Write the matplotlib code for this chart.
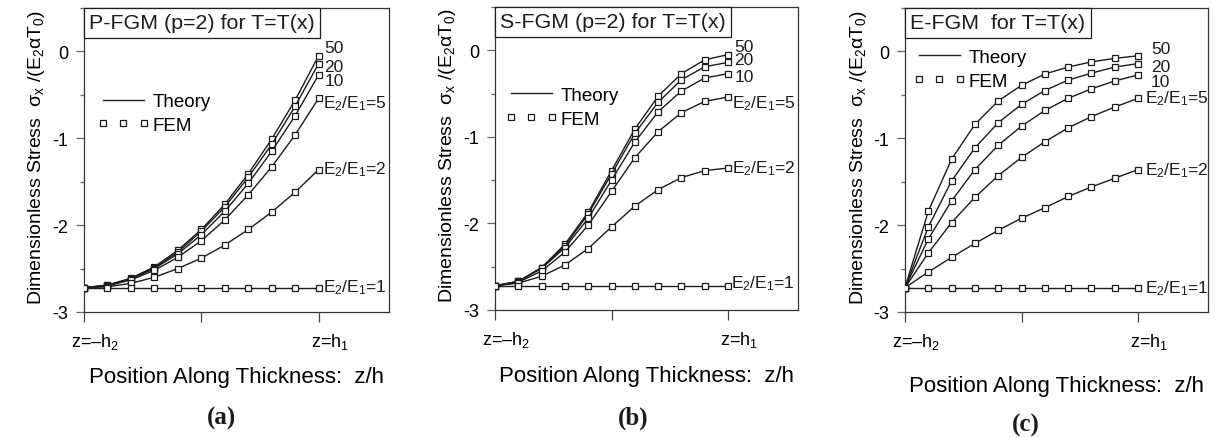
import matplotlib
matplotlib.use("Agg")
import matplotlib.pyplot as plt
from matplotlib.lines import Line2D
from matplotlib.transforms import ScaledTranslation

plt.rcParams['font.family'] = ['Liberation Sans', 'DejaVu Sans']
plt.rcParams['mathtext.fontset'] = 'custom'
plt.rcParams['mathtext.rm'] = 'Liberation Sans'
plt.rcParams['mathtext.it'] = 'Liberation Sans:italic'
plt.rcParams['mathtext.bf'] = 'Liberation Sans:bold'

# ---------------- data ----------------
# 11 stations through the thickness, z = -h2 ... z = h1
z_steps = [0, 1, 2, 3, 4, 5, 6, 7, 8, 9, 10]
x_tick_pos = [0, 5, 10]
x_tick_labels = ['z=\u2013h$_2$', '', 'z=h$_1$']
y_tick_pos = [-3, -2, -1, 0]
y_tick_labels = ['-3', '-2', '-1', '0']
y_minor_pos = [-2.5, -1.5, -0.5, 0.5]

ratio_labels = ['50', '20', '10', 'E$_2$/E$_1$=5', 'E$_2$/E$_1$=2', 'E$_2$/E$_1$=1']

# P-FGM (p=2)
p_r50 = [-2.72, -2.69, -2.61, -2.48, -2.29, -2.05, -1.76, -1.41, -1.01, -0.56, -0.05]
p_r20 = [-2.72, -2.69, -2.62, -2.49, -2.31, -2.07, -1.79, -1.45, -1.07, -0.63, -0.14]
p_r10 = [-2.72, -2.70, -2.62, -2.50, -2.33, -2.11, -1.84, -1.52, -1.15, -0.74, -0.27]
p_r5 = [-2.72, -2.70, -2.63, -2.52, -2.37, -2.18, -1.94, -1.65, -1.33, -0.96, -0.54]
p_r2 = [-2.72, -2.71, -2.67, -2.60, -2.50, -2.38, -2.23, -2.05, -1.85, -1.62, -1.36]
p_r1 = [-2.72, -2.72, -2.72, -2.72, -2.72, -2.72, -2.72, -2.72, -2.72, -2.72, -2.72]

# S-FGM (p=2)
s_r50 = [-2.72, -2.67, -2.51, -2.24, -1.87, -1.39, -0.91, -0.53, -0.27, -0.11, -0.05]
s_r20 = [-2.72, -2.67, -2.51, -2.26, -1.89, -1.43, -0.96, -0.60, -0.34, -0.19, -0.14]
s_r10 = [-2.72, -2.67, -2.52, -2.28, -1.94, -1.50, -1.06, -0.71, -0.47, -0.32, -0.27]
s_r5 = [-2.72, -2.68, -2.55, -2.33, -2.02, -1.63, -1.24, -0.94, -0.72, -0.59, -0.54]
s_r2 = [-2.72, -2.69, -2.61, -2.48, -2.29, -2.04, -1.80, -1.61, -1.47, -1.39, -1.36]
s_r1 = [-2.72, -2.72, -2.72, -2.72, -2.72, -2.72, -2.72, -2.72, -2.72, -2.72, -2.72]

# E-FGM
e_r50 = [-2.72, -1.84, -1.24, -0.84, -0.57, -0.39, -0.26, -0.18, -0.12, -0.08, -0.05]
e_r20 = [-2.72, -2.02, -1.49, -1.11, -0.82, -0.61, -0.45, -0.33, -0.25, -0.18, -0.14]
e_r10 = [-2.72, -2.16, -1.72, -1.36, -1.08, -0.86, -0.68, -0.54, -0.43, -0.34, -0.27]
e_r5 = [-2.72, -2.32, -1.97, -1.68, -1.43, -1.22, -1.04, -0.88, -0.75, -0.64, -0.54]
e_r2 = [-2.72, -2.54, -2.37, -2.21, -2.06, -1.92, -1.80, -1.67, -1.56, -1.46, -1.36]
e_r1 = [-2.72, -2.72, -2.72, -2.72, -2.72, -2.72, -2.72, -2.72, -2.72, -2.72, -2.72]

titles = ['P-FGM (p=2) for T=T(x)', 'S-FGM (p=2) for T=T(x)', 'E-FGM  for T=T(x)']
panel_tags = ['(a)', '(b)', '(c)']
x_label = 'Position Along Thickness:  z/h'
y_label = 'Dimensionless Stress  \u03c3$_\\mathrm{x}$ /(E$_2$\u03b1T$_0$)'
legend_labels = ['Theory', 'FEM']

# ---------------- layout / style ----------------
W, H = 1215, 439
INK = '#1c1c1c'
fig = plt.figure(figsize=(W / 100, H / 100), dpi=100)


def axes_px(left, top, right, bottom):
    return fig.add_axes([left / W, 1 - bottom / H, (right - left) / W, (bottom - top) / H])


panels = [
    dict(box=(84, 9, 389, 313), series=[p_r50, p_r20, p_r10, p_r5, p_r2, p_r1],
         lab_x=[10.25, 10.25, 10.25, 10.2, 10.2, 10.2],
         lab_y=[-0.01, -0.22, -0.39, -0.64, -1.40, -2.76],
         leg=(0.043, 0.72), xlab_y=378, ylab_x=37, tag=(222, 418)),
    dict(box=(495, 8, 798, 311), series=[s_r50, s_r20, s_r10, s_r5, s_r2, s_r1],
         lab_x=[10.27, 10.27, 10.27, 10.18, 10.17, 10.12],
         lab_y=[-0.01, -0.16, -0.36, -0.66, -1.41, -2.74],
         leg=(0.033, 0.737), xlab_y=377, ylab_x=448, tag=(633, 418)),
    dict(box=(905, 9, 1208, 313), series=[e_r50, e_r20, e_r10, e_r5, e_r2, e_r1],
         lab_x=[10.55, 10.55, 10.55, 10.3, 10.3, 10.3],
         lab_y=[-0.02, -0.22, -0.40, -0.59, -1.42, -2.77],
         leg=(0.026, 0.866), xlab_y=387, ylab_x=858, tag=(1026, 425)),
]

for i, p in enumerate(panels):
    left, top, right, bottom = p['box']
    ax = axes_px(left, top, right, bottom)
    for vals in p['series']:
        ax.plot(z_steps, vals, '-', color=INK, lw=1.0, marker='s', ms=3.8,
                mfc='white', mec=INK, mew=0.9, zorder=3)
    for txt, lx, ly in zip(ratio_labels, p['lab_x'], p['lab_y']):
        ax.text(lx, ly, txt, fontsize=12.5, ha='left', va='baseline', color=INK)

    ax.set_xlim(0, 13)
    ax.set_ylim(-3, 0.5)
    ax.set_xticks(x_tick_pos)
    ax.set_xticklabels(x_tick_labels)
    ax.set_yticks(y_tick_pos)
    ax.set_yticklabels(y_tick_labels)
    ax.set_yticks(y_minor_pos, minor=True)
    ax.tick_params(axis='x', which='major', direction='out', length=7.5, width=0.9,
                   color='#444444', labelsize=13, pad=6)
    ax.tick_params(axis='y', which='major', direction='out', length=6, width=0.9,
                   color='#666666', labelsize=13, pad=5.5)
    ax.tick_params(axis='y', which='minor', direction='out', length=3, width=0.9,
                   color='#666666')
    for sp in ax.spines.values():
        sp.set_color('#333333')
        sp.set_linewidth(0.9)
    shift = ScaledTranslation(8 / 72, 0, fig.dpi_scale_trans)
    for tk in ax.xaxis.get_major_ticks():
        tk.label1.set_transform(tk.label1.get_transform() + shift)

    ax.set_xlabel(x_label, fontsize=16)
    ax.xaxis.label.set_verticalalignment('center')
    ax.xaxis.set_label_coords(0.5, -(p['xlab_y'] - bottom) / (bottom - top))
    ax.set_ylabel(y_label, fontsize=14)
    ax.yaxis.label.set_verticalalignment('center')
    ax.yaxis.set_label_coords((p['ylab_x'] - left) / (right - left), 0.5 + 4 / (bottom - top))

    pad_frac = 0.25
    fs_title = 15.4
    ax.annotate(titles[i], xy=(0, 1), xycoords='axes fraction',
                xytext=(pad_frac * fs_title, -pad_frac * fs_title), textcoords='offset points',
                ha='left', va='top', fontsize=fs_title, color=INK, zorder=5,
                bbox=dict(boxstyle='square,pad=%.2f' % pad_frac, fc='white', ec=INK, lw=0.9))

    handles = [Line2D([], [], color=INK, lw=1.0),
               Line2D([], [], ls='none', marker='s', ms=3.8, mfc='white', mec=INK, mew=0.9)]
    ax.legend(handles, legend_labels, loc='upper left', bbox_to_anchor=p['leg'],
              frameon=False, borderpad=0, borderaxespad=0, handlelength=2.8,
              handletextpad=0.15, labelspacing=0.35, numpoints=3, fontsize=13.5)

    fig.text(p['tag'][0] / W, 1 - p['tag'][1] / H, panel_tags[i], ha='center', va='center',
             fontsize=18, fontweight='bold', family='Liberation Serif', color=INK)

fig.savefig('out.png', dpi=100)
